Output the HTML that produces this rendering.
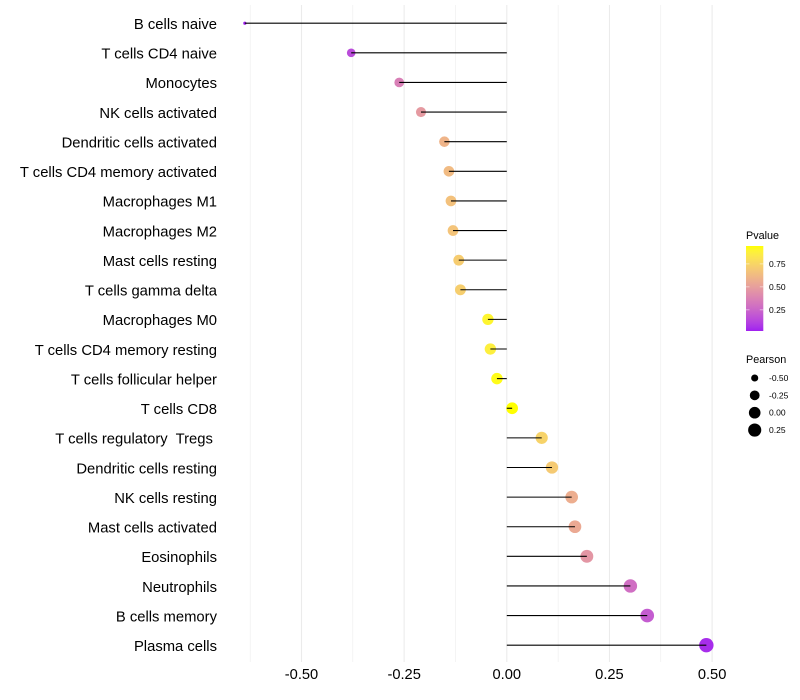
<!DOCTYPE html>
<html>
<head>
<meta charset="utf-8">
<title>Immune cell correlation lollipop chart</title>
<style>
html,body{margin:0;padding:0;background:#fff;}
svg{display:block;font-family:"Liberation Sans",Arial,sans-serif;}
text{white-space:pre;}
</style>
</head>
<body>
<svg id="chart" width="800" height="700" viewBox="0 0 800 700" xmlns="http://www.w3.org/2000/svg">
<defs><linearGradient id="pvalue-gradient" x1="0" y1="1" x2="0" y2="0"></linearGradient></defs>
<rect x="0" y="0" width="800" height="700" fill="#ffffff"/>
<g id="grid"></g>
<g id="points"></g>
<g id="stems"></g>
<g id="ylabels"></g>
<g id="xlabels"></g>
<g id="legend-p"></g>
<g id="legend-s"></g>
</svg>
<script>
const categories = ["B cells naive","T cells CD4 naive","Monocytes","NK cells activated","Dendritic cells activated","T cells CD4 memory activated","Macrophages M1","Macrophages M2","Mast cells resting","T cells gamma delta","Macrophages M0","T cells CD4 memory resting","T cells follicular helper","T cells CD8","T cells regulatory  Tregs ","Dendritic cells resting","NK cells resting","Mast cells activated","Eosinophils","Neutrophils","B cells memory","Plasma cells"];
const pearson = [-0.638,-0.379,-0.262,-0.209,-0.152,-0.141,-0.136,-0.131,-0.117,-0.113,-0.046,-0.040,-0.024,0.013,0.085,0.110,0.158,0.166,0.195,0.301,0.342,0.486];
const pvalues = [0.02,0.15,0.36,0.48,0.60,0.63,0.66,0.67,0.71,0.72,0.90,0.87,0.93,0.945,0.74,0.70,0.57,0.55,0.46,0.29,0.21,0.05];
const xMajorTicks = [-0.5,-0.25,0,0.25,0.5];
const xMinorTicks = [-0.625,-0.375,-0.125,0.125,0.375];
const xTickLabels = ["-0.50","-0.25","0.00","0.25","0.50"];
const pLegendTicks = [0.25,0.5,0.75];
const pLegendLabels = ["0.25","0.50","0.75"];
const sizeLegendValues = [-0.5,-0.25,0,0.25];
const sizeLegendLabels = ["-0.50","-0.25","0.00","0.25"];

const SVGNS = "http://www.w3.org/2000/svg";
function make(tag, attrs, parent, txt) {
  const el = document.createElementNS(SVGNS, tag);
  for (const k in attrs) el.setAttribute(k, attrs[k]);
  if (txt !== undefined) el.textContent = txt;
  parent.appendChild(el);
  return el;
}
function slug(s) { return s.trim().toLowerCase().replace(/[^a-z0-9]+/g, '-'); }

/* axis functions */
function xScale(v) { return 506.8 + v * 410.6; }
function yScale(i) { return 23.2 + i * (622 / 21); }
const pLow = 0.02, pHigh = 0.945;
function pLegendY(p) { return 331 - (p - pLow) / (pHigh - pLow) * 85; }

const minR = Math.min(...pearson), maxR = Math.max(...pearson);
function pointDiameter(v) {
  const t = Math.max(0, (v - minR) / (maxR - minR));
  return 3.2 + 11.2 * Math.sqrt(t);
}

/* Lab-space colour scale purple to yellow */
function toLab(c) {
  const f = c.map(v => { v /= 255; return v > 0.04045 ? Math.pow((v + 0.055) / 1.055, 2.4) : v / 12.92; });
  const X = (0.4124 * f[0] + 0.3576 * f[1] + 0.1805 * f[2]) / 0.95047;
  const Y = 0.2126 * f[0] + 0.7152 * f[1] + 0.0722 * f[2];
  const Z = (0.0193 * f[0] + 0.1192 * f[1] + 0.9505 * f[2]) / 1.08883;
  const g = t => t > 0.008856 ? Math.cbrt(t) : 7.787 * t + 16 / 116;
  return [116 * g(Y) - 16, 500 * (g(X) - g(Y)), 200 * (g(Y) - g(Z))];
}
function fromLab(l) {
  const fy = (l[0] + 16) / 116, fx = fy + l[1] / 500, fz = fy - l[2] / 200;
  const g = t => t * t * t > 0.008856 ? t * t * t : (t - 16 / 116) / 7.787;
  const X = g(fx) * 0.95047, Y = g(fy), Z = g(fz) * 1.08883;
  const rgb = [3.2406 * X - 1.5372 * Y - 0.4986 * Z, -0.9689 * X + 1.8758 * Y + 0.0415 * Z, 0.0557 * X - 0.2040 * Y + 1.0570 * Z];
  const out = rgb.map(v => {
    v = Math.min(1, Math.max(0, v));
    v = v > 0.0031308 ? 1.055 * Math.pow(v, 1 / 2.4) - 0.055 : 12.92 * v;
    return Math.round(v * 255);
  });
  return "rgb(" + out.join(",") + ")";
}
const labLow = toLab([160, 32, 240]), labHigh = toLab([255, 255, 0]);
function colorAt(t) {
  t = Math.min(1, Math.max(0, t));
  return fromLab(labLow.map((a, i) => a + (labHigh[i] - a) * t));
}
function pColor(p) { return colorAt((p - pLow) / (pHigh - pLow)); }

const grid = document.getElementById('grid');
xMinorTicks.forEach(v => {
  const el = make('line', {x1: xScale(v), x2: xScale(v), y1: 5, y2: 662, stroke: '#ebebeb', 'stroke-width': 0.55}, grid);
  
  
});
xMajorTicks.forEach(v => {
  const el = make('line', {x1: xScale(v), x2: xScale(v), y1: 5, y2: 662, stroke: '#ebebeb', 'stroke-width': 1.07}, grid);
  
  
});

const pointsG = document.getElementById('points');
const stemsG = document.getElementById('stems');
const yG = document.getElementById('ylabels');
categories.forEach((c, i) => {
  const pt = make('circle', {cx: xScale(pearson[i]), cy: yScale(i), r: pointDiameter(pearson[i]) / 2, fill: pColor(pvalues[i])}, pointsG);
  
  
  const st = make('line', {x1: xScale(0), x2: xScale(pearson[i]), y1: yScale(i), y2: yScale(i), stroke: '#000000', 'stroke-width': 1.07}, stemsG);
  
  
  const lb = make('text', {x: 217, y: yScale(i) + 5.8, 'text-anchor': 'end', 'font-size': 14.8, fill: '#000000'}, yG, c);
  
  
});

const xG = document.getElementById('xlabels');
xMajorTicks.forEach((v, i) => {
  const t = make('text', {x: xScale(v), y: 679, 'text-anchor': 'middle', 'font-size': 14.67, fill: '#000000'}, xG, xTickLabels[i]);
  
  
});

/* P-value legend */
const grad = document.getElementById('pvalue-gradient');
for (let s = 0; s <= 20; s++) {
  make('stop', {offset: s / 20, 'stop-color': colorAt(s / 20)}, grad);
}
const lp = document.getElementById('legend-p');
const pTitle = make('text', {x: 746, y: 239, 'font-size': 10.8, fill: '#000000'}, lp, 'Pvalue');


const bar = make('rect', {x: 746, y: 246, width: 17.3, height: 85, fill: 'url(#pvalue-gradient)'}, lp);


pLegendTicks.forEach((p, i) => {
  const y = pLegendY(p);
  const t1 = make('line', {x1: 746, x2: 749.5, y1: y, y2: y, stroke: '#ffffff', 'stroke-opacity': 0.8, 'stroke-width': 0.6}, lp);
  
  
  const t2 = make('line', {x1: 759.8, x2: 763.3, y1: y, y2: y, stroke: '#ffffff', 'stroke-opacity': 0.8, 'stroke-width': 0.6}, lp);
  
  
  const tx = make('text', {x: 769, y: y + 3, 'font-size': 8.5, fill: '#000000'}, lp, pLegendLabels[i]);
  
  
});

/* Pearson legend */
const ls = document.getElementById('legend-s');
const sTitle = make('text', {x: 746, y: 363, 'font-size': 10.8, fill: '#000000'}, ls, 'Pearson');


sizeLegendValues.forEach((v, i) => {
  const y = 378 + i * 17.35;
  const c = make('circle', {cx: 754.7, cy: y, r: pointDiameter(v) / 2, fill: '#000000'}, ls);
  
  
  const tx = make('text', {x: 769, y: y + 3, 'font-size': 8.5, fill: '#000000'}, ls, sizeLegendLabels[i]);
  
  
});
</script>
</body>
</html>
